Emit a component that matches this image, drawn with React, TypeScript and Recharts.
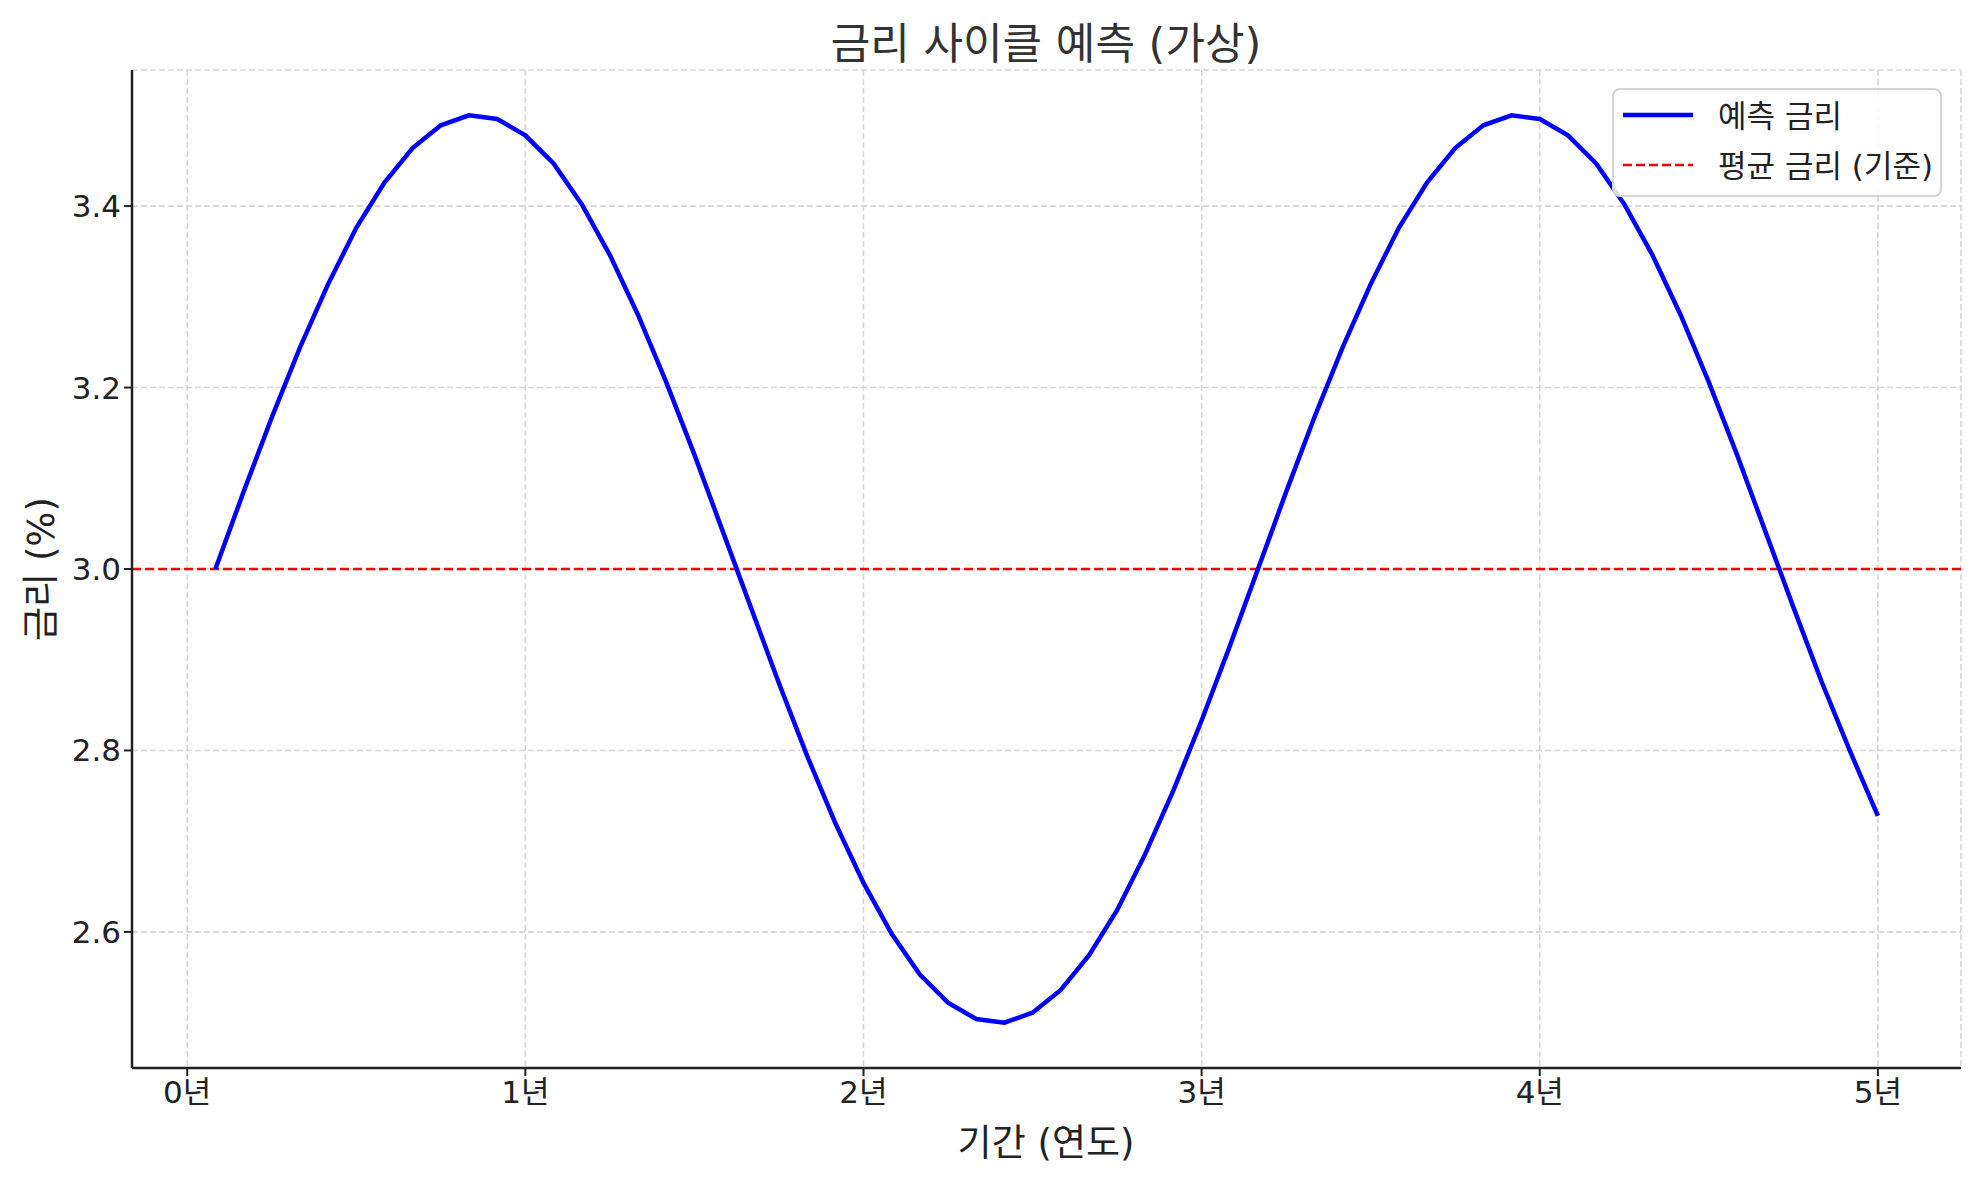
import {
  CartesianGrid,
  Legend,
  Line,
  LineChart,
  ReferenceLine,
  XAxis,
  YAxis,
} from "recharts";

const FONT = "'DejaVu Sans', 'Noto Sans CJK KR', sans-serif";

// 월 단위 (1개월 ~ 60개월)
const months = [
  1, 2, 3, 4, 5, 6, 7, 8, 9, 10, 11, 12,
  13, 14, 15, 16, 17, 18, 19, 20, 21, 22, 23, 24,
  25, 26, 27, 28, 29, 30, 31, 32, 33, 34, 35, 36,
  37, 38, 39, 40, 41, 42, 43, 44, 45, 46, 47, 48,
  49, 50, 51, 52, 53, 54, 55, 56, 57, 58, 59, 60,
];

// 그림에서 읽은 금리 값 (%)
const rates = [
  3.0, 3.085, 3.167, 3.244, 3.314, 3.376, 3.426, 3.464, 3.489, 3.5, 3.496, 3.478,
  3.447, 3.402, 3.346, 3.28, 3.206, 3.126, 3.042, 2.958, 2.874, 2.794, 2.72, 2.654,
  2.598, 2.553, 2.522, 2.504, 2.5, 2.511, 2.536, 2.574, 2.624, 2.686, 2.756, 2.833,
  2.915, 3.0, 3.085, 3.167, 3.244, 3.314, 3.376, 3.426, 3.464, 3.489, 3.5, 3.496,
  3.478, 3.447, 3.402, 3.346, 3.28, 3.206, 3.126, 3.042, 2.958, 2.876, 2.8, 2.728,
];

const baseRate = 3.0;

const xTicks = [0, 1, 2, 3, 4, 5];
const yTicks = [2.6, 2.8, 3.0, 3.2, 3.4];

const title = "금리 사이클 예측 (가상)";
const xLabel = "기간 (연도)";
const yLabel = "금리 (%)";
const seriesName = "예측 금리";
const baseName = "평균 금리 (기준)";

const data = months.map((m, i) => ({ t: m / 12, rate: rates[i] }));

function LegendBox() {
  return (
    <div
      style={{
        width: 330,
        height: 109,
        border: "2px solid #d4d4d4",
        borderRadius: 8,
        background: "rgba(255,255,255,0.85)",
        boxSizing: "border-box",
        position: "relative",
        fontFamily: FONT,
        fontSize: 31,
        color: "#222",
      }}
    >
      <svg width={90} height={105} style={{ position: "absolute", left: 0, top: 0 }}>
        <line x1={9} y1={25} x2={79} y2={25} stroke="#0000ff" strokeWidth={4.5} />
        <line
          x1={9}
          y1={75}
          x2={79}
          y2={75}
          stroke="#ff0000"
          strokeWidth={2.5}
          strokeDasharray="9 4"
        />
      </svg>
      <div style={{ position: "absolute", left: 104, top: 6, lineHeight: "40px", whiteSpace: "nowrap" }}>
        {seriesName}
      </div>
      <div style={{ position: "absolute", left: 104, top: 56, lineHeight: "40px", whiteSpace: "nowrap" }}>
        {baseName}
      </div>
    </div>
  );
}

export default function App() {
  return (
    <div
      style={{
        position: "absolute",
        left: 0,
        top: 0,
        width: 1979,
        height: 1180,
        background: "#fff",
        fontFamily: FONT,
      }}
    >
      <LineChart
        width={1979}
        height={1180}
        data={data}
        margin={{ top: 70, right: 18, left: 52, bottom: 52 }}
      >
        <CartesianGrid stroke="#d6d6d6" strokeWidth={1.6} strokeDasharray="6 3" />
        <XAxis
          dataKey="t"
          type="number"
          domain={[-0.1633, 5.2458]}
          allowDataOverflow
          ticks={xTicks}
          tickFormatter={(v: number) => `${v}년`}
          height={60}
          tickSize={8}
          tickMargin={5}
          axisLine={{ stroke: "#222", strokeWidth: 2.5 }}
          tickLine={{ stroke: "#222", strokeWidth: 2 }}
          tick={{ fontSize: 31, fill: "#222", fontFamily: FONT }}
        />
        <YAxis
          type="number"
          domain={[2.45, 3.55]}
          allowDataOverflow
          ticks={yTicks}
          tickFormatter={(v: number) => v.toFixed(1)}
          width={80}
          tickSize={8}
          tickMargin={3}
          axisLine={{ stroke: "#222", strokeWidth: 2.5 }}
          tickLine={{ stroke: "#222", strokeWidth: 2 }}
          tick={{ fontSize: 31, fill: "#222", fontFamily: FONT }}
        />
        <ReferenceLine
          y={baseRate}
          stroke="#ff0000"
          strokeWidth={2.5}
          strokeDasharray="9 4"
        />
        <Line
          type="linear"
          dataKey="rate"
          stroke="#0000ff"
          strokeWidth={4.5}
          dot={false}
          isAnimationActive={false}
        />
        <Legend
          layout="horizontal"
          verticalAlign="middle"
          align="center"
          wrapperStyle={{ left: 1612, top: 88, width: 330 }}
          content={() => <LegendBox />}
        />
      </LineChart>
      <div
        style={{
          position: "absolute",
          left: 1046,
          top: 40,
          transform: "translate(-50%, -50%)",
          fontSize: 43,
          color: "#333",
          whiteSpace: "nowrap",
        }}
      >
        {title}
      </div>
      <div
        style={{
          position: "absolute",
          left: 1046,
          top: 1140,
          transform: "translate(-50%, -50%)",
          fontSize: 37,
          color: "#222",
          whiteSpace: "nowrap",
        }}
      >
        {xLabel}
      </div>
      <div
        style={{
          position: "absolute",
          left: 38,
          top: 569,
          transform: "translate(-50%, -50%) rotate(-90deg)",
          fontSize: 37,
          color: "#222",
          whiteSpace: "nowrap",
        }}
      >
        {yLabel}
      </div>
    </div>
  );
}
